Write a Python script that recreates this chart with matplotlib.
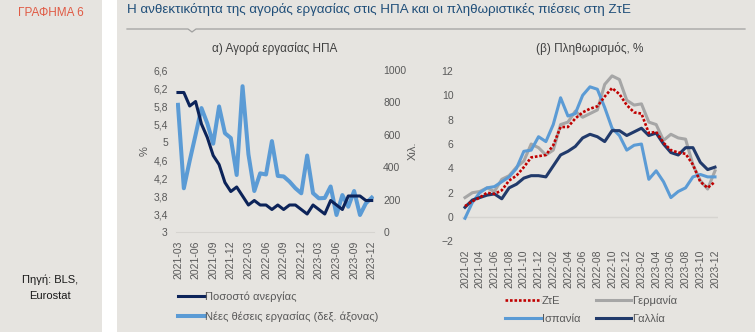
import matplotlib
matplotlib.use('Agg')
import matplotlib.pyplot as plt
import matplotlib.patches as mpatches
from matplotlib.lines import Line2D
from matplotlib.ticker import FuncFormatter
import numpy as np

plt.rcParams['font.family'] = ['Liberation Sans', 'DejaVu Sans']

# ── Data ─────────────────────────────────────────────────────────────────────
# (α) US labour market, monthly 2021-03 .. 2023-12
us_months = ['2021-03', '2021-04', '2021-05', '2021-06', '2021-07', '2021-08',
             '2021-09', '2021-10', '2021-11', '2021-12', '2022-01', '2022-02',
             '2022-03', '2022-04', '2022-05', '2022-06', '2022-07', '2022-08',
             '2022-09', '2022-10', '2022-11', '2022-12', '2023-01', '2023-02',
             '2023-03', '2023-04', '2023-05', '2023-06', '2023-07', '2023-08',
             '2023-09', '2023-10', '2023-11', '2023-12']
unemployment = [6.1, 6.1, 5.8, 5.9, 5.4, 5.1, 4.7, 4.5, 4.1, 3.9, 4.0, 3.8,
                3.6, 3.7, 3.6, 3.6, 3.5, 3.6, 3.5, 3.6, 3.6, 3.5, 3.4, 3.6,
                3.5, 3.4, 3.7, 3.6, 3.5, 3.8, 3.8, 3.8, 3.7, 3.7]
new_jobs = [785, 270, 440, 600, 765, 670, 545, 775, 610, 580, 352, 900,
            480, 253, 362, 355, 561, 346, 343, 311, 270, 239, 472, 240,
            208, 210, 281, 105, 228, 156, 253, 105, 177, 212]

# (β) HICP inflation, monthly 2021-02 .. 2023-12
hicp_months = ['2021-02', '2021-03', '2021-04', '2021-05', '2021-06', '2021-07',
               '2021-08', '2021-09', '2021-10', '2021-11', '2021-12', '2022-01',
               '2022-02', '2022-03', '2022-04', '2022-05', '2022-06', '2022-07',
               '2022-08', '2022-09', '2022-10', '2022-11', '2022-12', '2023-01',
               '2023-02', '2023-03', '2023-04', '2023-05', '2023-06', '2023-07',
               '2023-08', '2023-09', '2023-10', '2023-11', '2023-12']
euro_area = [0.9, 1.3, 1.6, 2.0, 1.9, 2.2, 3.0, 3.4, 4.1, 4.9, 5.0, 5.1,
             5.9, 7.4, 7.4, 8.1, 8.6, 8.9, 9.1, 9.9, 10.6, 10.1, 9.2, 8.6,
             8.5, 6.9, 7.0, 6.1, 5.5, 5.3, 5.2, 4.3, 2.9, 2.4, 2.9]
germany = [1.6, 2.0, 2.1, 2.4, 2.1, 3.1, 3.4, 4.1, 4.6, 6.0, 5.7, 5.1,
           5.5, 7.6, 7.8, 8.7, 8.2, 8.5, 8.8, 10.9, 11.6, 11.3, 9.6, 9.2,
           9.3, 7.8, 7.6, 6.3, 6.8, 6.5, 6.4, 4.3, 3.0, 2.3, 3.8]
spain = [-0.1, 1.2, 2.0, 2.4, 2.5, 2.9, 3.3, 4.0, 5.4, 5.5, 6.6, 6.2,
         7.6, 9.8, 8.3, 8.5, 10.0, 10.7, 10.5, 9.0, 7.3, 6.7, 5.5, 5.9,
         6.0, 3.1, 3.8, 2.9, 1.6, 2.1, 2.4, 3.3, 3.5, 3.3, 3.3]
france = [0.8, 1.4, 1.6, 1.8, 1.9, 1.5, 2.4, 2.7, 3.2, 3.4, 3.4, 3.3,
          4.2, 5.1, 5.4, 5.8, 6.5, 6.8, 6.6, 6.2, 7.1, 7.1, 6.7, 7.0,
          7.3, 6.7, 6.9, 6.0, 5.3, 5.1, 5.7, 5.7, 4.5, 3.9, 4.1]

# ── Style ────────────────────────────────────────────────────────────────────
BG = '#e6e4e0'
NAVY = '#0c2359'
LBLUE = '#5b9bd5'
GREY = '#a6a6a6'
FR_NAVY = '#213a6b'
RED = '#c00000'
TXT = '#595959'
W, H = 755, 332


def fx(px):
    return px / W


def fy(py):
    return 1 - py / H


def comma(v, pos):
    s = f'{v:.1f}'.rstrip('0').rstrip('.')
    return s.replace('.', ',')


fig = plt.figure(figsize=(W / 100, H / 100), dpi=100, facecolor='white')

# panels background
fig.patches.append(mpatches.Rectangle((0, 0), fx(102), 1, transform=fig.transFigure,
                                      facecolor=BG, edgecolor='none', zorder=-10))
fig.patches.append(mpatches.Rectangle((fx(117), 0), 1 - fx(117), 1, transform=fig.transFigure,
                                      facecolor=BG, edgecolor='none', zorder=-10))

fig.text(fx(51), fy(13), 'ΓΡΑΦΗΜΑ 6', color='#e05a44', fontsize=8.5,
         ha='center', va='center')
fig.text(fx(50), fy(288), 'Πηγή: BLS,\nEurostat', color='#1a1a1a', fontsize=8,
         ha='center', va='center', linespacing=1.75)
fig.text(fx(127), fy(10), 'Η ανθεκτικότητα της αγοράς εργασίας στις ΗΠΑ και οι '
         'πληθωριστικές πιέσεις στη ΖτΕ', color='#1f4e79', fontsize=9.6,
         ha='left', va='center')
# separator with small notch
fig.add_artist(Line2D([fx(127), fx(188), fx(192), fx(196), fx(745)],
                      [fy(29), fy(29), fy(32), fy(29), fy(29)],
                      color='#a0a0a0', lw=0.9, transform=fig.transFigure))

# ── (α) ──────────────────────────────────────────────────────────────────────
ax1 = fig.add_axes([fx(176.2), fy(232), fx(373.5) - fx(176.2), fy(70) - fy(232)])
ax1.set_facecolor('none')
x1 = np.arange(len(us_months))
ax2 = ax1.twinx()
ax2.set_facecolor('none')
lj, = ax2.plot(x1, new_jobs, color=LBLUE, lw=2.9, solid_joinstyle='round',
               label='Νέες θέσεις εργασίας (δεξ. άξονας)', zorder=2)
lu, = ax1.plot(x1, unemployment, color=NAVY, lw=2.2, solid_joinstyle='round',
               label='Ποσοστό ανεργίας', zorder=3)
ax1.set_zorder(ax2.get_zorder() + 1)
ax1.patch.set_visible(False)

ax1.set_xlim(-0.3, len(us_months) - 0.7)
ax1.set_ylim(3, 6.6)
ax1.set_yticks(np.arange(3, 6.61, 0.4))
ax1.yaxis.set_major_formatter(FuncFormatter(comma))
ax2.set_ylim(0, 1000)
ax2.set_yticks(range(0, 1001, 200))
ax1.set_xticks(x1[::3])
ax1.set_xticklabels(us_months[::3], rotation=90)
ax1.set_ylabel('%', color=TXT, fontsize=8, labelpad=3)
ax2.set_ylabel('Χιλ.', color=TXT, fontsize=8, labelpad=1)
ax1.set_title('α) Αγορά εργασίας ΗΠΑ', color='#404040', fontsize=8.5, pad=13)

for a in (ax1, ax2):
    for s in a.spines.values():
        s.set_visible(False)
    a.tick_params(length=0, labelsize=7.5, labelcolor=TXT)
ax1.spines['bottom'].set_visible(True)
ax1.spines['bottom'].set_color('#d6d4d0')
ax1.tick_params(axis='y', pad=6)
ax1.tick_params(axis='x', pad=6)
ax2.tick_params(axis='y', pad=7)

leg1 = ax1.legend(handles=[lu, lj], loc='upper left', frameon=False,
                  bbox_to_anchor=(fx(178), fy(291)), bbox_transform=fig.transFigure,
                  fontsize=8, handlelength=2.4, handletextpad=0.05,
                  labelspacing=0.85, borderaxespad=0, borderpad=0)
for t in leg1.get_texts():
    t.set_color(TXT)

# ── (β) ──────────────────────────────────────────────────────────────────────
ax3 = fig.add_axes([fx(461.7), fy(241.4), fx(718.3) - fx(461.7), fy(71) - fy(241.4)])
ax3.set_facecolor('none')
x3 = np.arange(len(hicp_months))
ax3.axhline(0, color='#d6d4d0', lw=1, zorder=1)
lg, = ax3.plot(x3, germany, color=GREY, lw=2.2, label='Γερμανία', zorder=2)
ls, = ax3.plot(x3, spain, color=LBLUE, lw=2.2, label='Ισπανία', zorder=3)
lf, = ax3.plot(x3, france, color=FR_NAVY, lw=2.2, label='Γαλλία', zorder=4)
le, = ax3.plot(x3, euro_area, color=RED, lw=1.9, ls=(0, (1, 0.7)),
               dash_capstyle='butt', label='ΖτΕ', zorder=5)
ax3.set_xlim(-0.45, len(hicp_months) - 0.55)
ax3.set_ylim(-2, 12)
ax3.set_yticks(range(-2, 13, 2))
ax3.set_xticks(x3[::2])
ax3.set_xticklabels(hicp_months[::2], rotation=90)
ax3.set_title('(β) Πληθωρισμός, %', color='#404040', fontsize=8.5, pad=14)
for s in ax3.spines.values():
    s.set_visible(False)
ax3.tick_params(length=0, labelsize=7.5, labelcolor=TXT)
ax3.tick_params(axis='y', pad=6)
ax3.tick_params(axis='x', pad=6)

leg2 = ax3.legend(handles=[le, ls, lg, lf], loc='upper left', ncol=2, frameon=False,
                  bbox_to_anchor=(fx(505), fy(295)), bbox_transform=fig.transFigure,
                  fontsize=8, handlelength=3.2, handletextpad=0.1,
                  labelspacing=0.75, columnspacing=1.4, borderaxespad=0, borderpad=0)
for t in leg2.get_texts():
    t.set_color(TXT)

plt.savefig('out.png', dpi=100, facecolor='white')
